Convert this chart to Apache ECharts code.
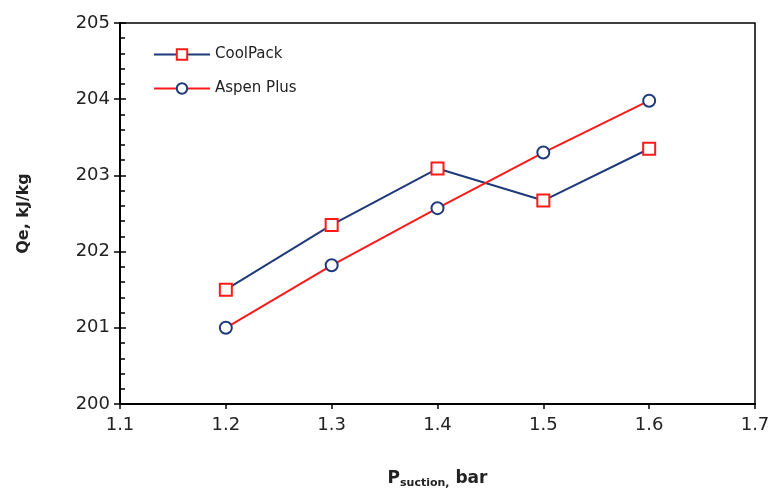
<!DOCTYPE html>
<html>
<head>
<meta charset="utf-8">
<script src="https://cdn.jsdelivr.net/npm/echarts@6/dist/echarts.min.js"></script>
<style>html,body{margin:0;padding:0;background:#fff}#c{width:771px;height:492px}</style>
</head>
<body>
<div id="c"></div>
<script>
const pressures = [1.2, 1.3, 1.4, 1.5, 1.6];
const coolPack = [201.5, 202.35, 203.09, 202.67, 203.35];
const aspenPlus = [201.0, 201.82, 202.57, 203.30, 203.98];
const seriesNames = ['CoolPack', 'Aspen Plus'];

const navy = '#1f3a7a';
const red = '#ff1a1a';
const font = 'DejaVu Sans';

const chart = echarts.init(document.getElementById('c'));
const yBase = {type: 'value', min: 200, max: 205, interval: 1, splitLine: {show: false}};
chart.setOption({
  animation: false,
  grid: {left: 120, right: 16, top: 23, bottom: 88, outerBoundsMode: 'none', containLabel: false,
         show: true, borderColor: '#000', borderWidth: 1.5, backgroundColor: 'transparent'},
  legend: {
    left: 148, top: 42, orient: 'vertical', itemGap: 19, itemWidth: 56, itemHeight: 13,
    textStyle: {fontFamily: font, fontSize: 15, color: '#222'},
    data: seriesNames
  },
  xAxis: {
    type: 'value', min: 1.1, max: 1.7, interval: 0.1,
    axisLine: {lineStyle: {color: '#000', width: 2}},
    axisTick: {show: true, inside: false, length: 5, lineStyle: {color: '#000', width: 1.5}},
    axisLabel: {fontFamily: font, fontSize: 18, color: '#222', margin: 12, formatter: v => v.toFixed(1)},
    splitLine: {show: false},
    name: '{a|P}{b|suction,}{a| bar}', nameLocation: 'middle', nameGap: 64,
    nameTextStyle: {rich: {
      a: {fontFamily: font, fontSize: 17, fontWeight: 'bold', color: '#222'},
      b: {fontFamily: font, fontSize: 11, fontWeight: 'bold', color: '#222', verticalAlign: 'bottom', padding: [10, 0, 0, 0]}
    }}
  },
  yAxis: [
    Object.assign({}, yBase, {
      axisLine: {show: true, lineStyle: {color: '#000', width: 2}},
      axisTick: {show: true, inside: false, length: 6, lineStyle: {color: '#000', width: 1.5}},
      axisLabel: {fontFamily: font, fontSize: 18, color: '#222', margin: 10},
      name: 'Qe, kJ/kg', nameLocation: 'middle', nameGap: 88,
      nameTextStyle: {fontFamily: font, fontSize: 16, fontWeight: 'bold', color: '#222'}
    }),
    Object.assign({}, yBase, {
      position: 'left', offset: 0,
      axisLine: {show: false},
      axisTick: {show: true, inside: true, length: 6, lineStyle: {color: '#000', width: 1.5}},
      minorTick: {show: true, splitNumber: 5, length: 5, lineStyle: {color: '#000', width: 1.5}},
      axisLabel: {show: false}
    })
  ],
  series: [
    {
      name: seriesNames[0], type: 'line', yAxisIndex: 0,
      data: pressures.map((p, i) => [p, coolPack[i]]),
      symbol: 'rect', symbolSize: 12,
      lineStyle: {color: navy, width: 2},
      itemStyle: {color: '#fff', borderColor: red, borderWidth: 2}
    },
    {
      name: seriesNames[1], type: 'line', yAxisIndex: 0,
      data: pressures.map((p, i) => [p, aspenPlus[i]]),
      symbol: 'circle', symbolSize: 12,
      lineStyle: {color: red, width: 2},
      itemStyle: {color: '#fff', borderColor: navy, borderWidth: 2}
    }
  ]
});
</script>
</body>
</html>
